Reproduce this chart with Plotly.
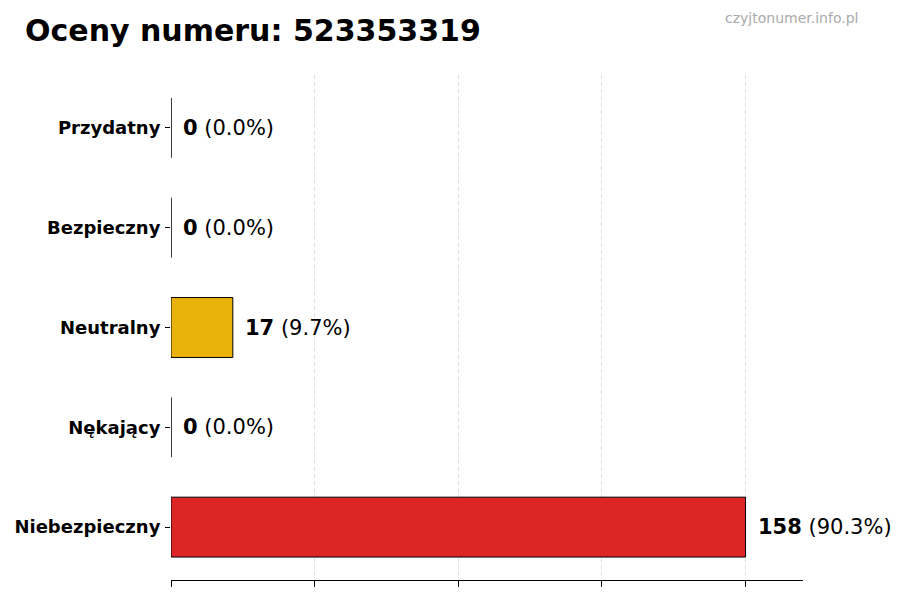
import numpy as np
import plotly.graph_objects as go

# ratings for the phone number
categories = ["Przydatny", "Bezpieczny", "Neutralny", "Nękający", "Niebezpieczny"]
counts = [0, 0, 17, 0, 158]
bar_colors = ["#22a447", "#3b82f6", "#eab30b", "#f97316", "#dc2626"]

title_text = "Oceny numeru: 523353319"
watermark = "czyjtonumer.info.pl"

total = sum(counts)
pcts = [100 * c / total for c in counts]
max_val = max(counts)

# page body adds an 8px offset, so margins are shifted by that
W, H = 900, 600
L, R, T, B = 163, 105, 67, 28
pw, ph = W - L - R, H - T - B


def px(x, y):
    # pixel position (figure coords) -> paper coords
    return (x - L) / pw, (H - B - y) / ph


fig = go.Figure()
fig.add_trace(go.Bar(
    x=counts,
    y=categories,
    orientation="h",
    width=0.6,
    marker=dict(color=bar_colors, line=dict(color="black", width=1)),
    hoverinfo="skip",
))

ann = []
# value labels next to each bar
for cat, c, p in zip(categories, counts, pcts):
    ann.append(dict(
        x=c, y=cat, xref="x", yref="y",
        text="<b>%d</b> (%.1f%%)" % (c, p),
        showarrow=False, xanchor="left", xshift=10,
        font=dict(family="DejaVu Sans", size=21, color="black"),
    ))

tx, ty = px(15, 23)
ann.append(dict(x=tx, y=ty, xref="paper", yref="paper", xanchor="left", yanchor="middle",
                text="<b>" + title_text + "</b>", showarrow=False,
                font=dict(family="DejaVu Sans", size=30, color="black")))
wx, wy = px(852, 10)
ann.append(dict(x=wx, y=wy, xref="paper", yref="paper", xanchor="right", yanchor="middle",
                text=watermark, showarrow=False,
                font=dict(family="DejaVu Sans", size=14, color="#aaaaaa")))

fig.update_layout(
    width=W, height=H,
    margin=dict(l=L, r=R, t=T, b=B, autoexpand=False),
    plot_bgcolor="white", paper_bgcolor="white",
    showlegend=False,
    annotations=ann,
    font=dict(family="DejaVu Sans"),
)

fig.update_xaxes(
    range=[0, max_val * 1.1],
    tickvals=np.linspace(0, max_val, 5),
    showticklabels=False,
    ticks="outside", ticklen=6, tickcolor="black",
    showline=True, linecolor="black", linewidth=1,
    showgrid=True, gridcolor="rgba(200,200,200,0.6)", griddash="4px,3px", gridwidth=1,
    zeroline=False, automargin=False, layer="above traces",
)
fig.update_yaxes(
    categoryorder="array", categoryarray=categories[::-1],
    range=[-0.53, len(categories) - 1 + 0.53],
    tickvals=categories, ticktext=["<b>%s</b>" % c for c in categories],
    ticks="outside", ticklen=5, tickcolor="black",
    showline=False, showgrid=False, zeroline=False,
    tickfont=dict(family="DejaVu Sans", size=18, color="black"),
    ticklabelstandoff=1,
    automargin=False,
)

fig.write_html("out.html")
